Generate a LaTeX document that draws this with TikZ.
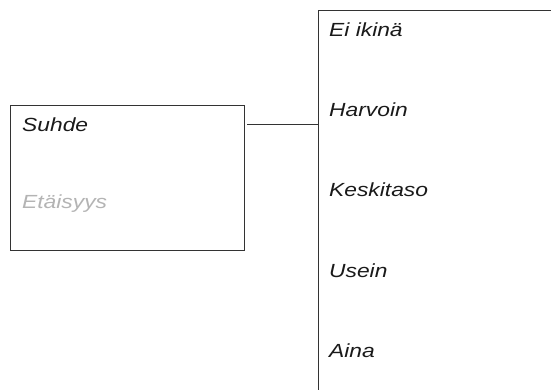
\documentclass[tikz,border=0pt]{standalone}
\usepackage{fontspec}
\setmainfont{Liberation Sans}[FakeStretch=1.2]
\definecolor{linec}{HTML}{333333}
\definecolor{txt}{HTML}{1A1A1A}
\definecolor{faint}{HTML}{B4B4B4}
\tikzset{
  boxline/.style={draw=linec, line width=0.9pt},
  lbl/.style={anchor=base west, inner sep=0pt, text=txt, font=\fontsize{19}{22}\selectfont\itshape},
  fadedlbl/.style={lbl, text=faint}
}
\begin{document}
\begin{tikzpicture}[x=1pt,y=-1pt]
\useasboundingbox (0,0) rectangle (551,389);
\clip (0,0) rectangle (551,389);
\fill[white] (0,0) rectangle (551,389);
% left box
\node[boxline, rectangle, minimum width=234pt, minimum height=145pt, anchor=north west, inner sep=0pt] (lbox) at (10,105) {};
\node[lbl] (suhde) at (22,131) {Suhde};
\node[fadedlbl] (etaisyys) at (22,208.5) {Etäisyys};
% right box (extends beyond the picture)
\node[boxline, rectangle, minimum width=260pt, minimum height=400pt, anchor=north west, inner sep=0pt] (rbox) at (317.5,10) {};
\node[lbl] (o1) at (329,36) {Ei ikinä};
\node[lbl] (o2) at (329,116) {Harvoin};
\node[lbl] (o3) at (329,196.5) {Keskitaso};
\node[lbl] (o4) at (329,277) {Usein};
\node[lbl] (o5) at (329,357) {Aina};
% connector
\coordinate (cstart) at (247,124);
\draw[boxline] (cstart) -- (rbox.west |- cstart);
\end{tikzpicture}
\end{document}
